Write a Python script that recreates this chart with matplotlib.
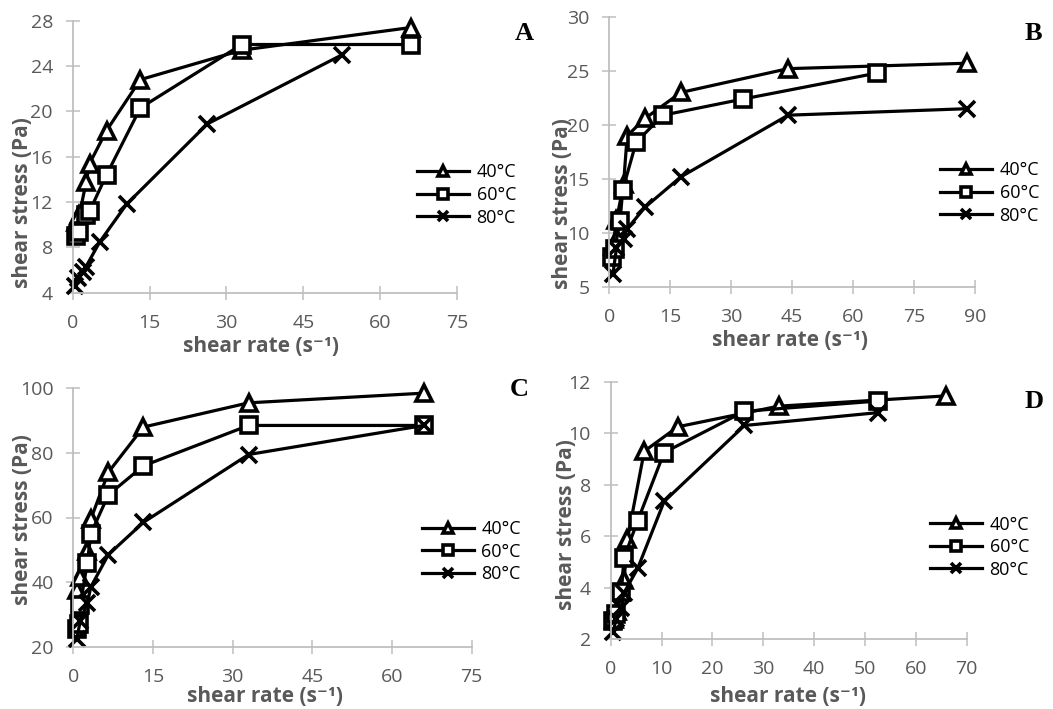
import matplotlib
matplotlib.use('Agg')
import matplotlib.pyplot as plt

plt.rcParams['font.family'] = ['Open Sans', 'DejaVu Sans']

W, H = 1053, 709
grey = '#595959'
axis_grey = '#BFBFBF'

labels = ['40°C', '60°C', '80°C']
markers = ['^', 's', 'x']

# panel A
a_x40 = [0.66, 1.32, 2.64, 3.3, 6.6, 13.2, 33, 66]
a_y40 = [10.2, 10.9, 13.8, 15.4, 18.3, 22.8, 25.4, 27.4]
a_x60 = [0.66, 1.32, 2.64, 3.3, 6.6, 13.2, 33, 66]
a_y60 = [9.0, 9.4, 10.9, 11.2, 14.4, 20.3, 25.9, 25.9]
a_x80 = [0.53, 1.05, 2.1, 2.6, 5.3, 10.5, 26.3, 52.6]
a_y80 = [4.6, 5.3, 5.8, 6.3, 8.5, 11.8, 18.9, 25.0]

# panel B
b_x40 = [0.88, 1.76, 3.5, 4.4, 8.8, 17.6, 44, 88]
b_y40 = [8.8, 11.2, 14.5, 19.0, 20.6, 23.0, 25.2, 25.7]
b_x60 = [0.66, 1.32, 2.64, 3.3, 6.6, 13.2, 33, 66]
b_y60 = [7.8, 8.5, 11.1, 14.0, 18.4, 20.9, 22.4, 24.8]
b_x80 = [0.88, 1.76, 3.5, 4.4, 8.8, 17.6, 44, 88]
b_y80 = [6.2, 8.6, 9.5, 10.4, 12.4, 15.2, 20.9, 21.5]

# panel C
c_x40 = [0.66, 1.32, 2.64, 3.3, 6.6, 13.2, 33, 66]
c_y40 = [37.5, 41.5, 49.5, 59.5, 74, 88, 95.5, 98.5]
c_x60 = [0.66, 1.0, 1.32, 2.64, 3.3, 6.6, 13.2, 33, 66]
c_y60 = [25.5, 27, 33, 46, 55, 67, 76, 88.5, 88.5]
c_x80 = [0.66, 1.32, 2.64, 3.3, 6.6, 13.2, 33, 66]
c_y80 = [22.5, 28, 33.5, 38.5, 48.5, 58.5, 79.5, 88.5]

# panel D
d_x40 = [0.66, 1.32, 2.64, 3.3, 6.6, 13.2, 33, 66]
d_y40 = [2.8, 3.1, 4.3, 5.9, 9.3, 10.25, 11.05, 11.45]
d_x60 = [0.53, 1.05, 2.1, 2.6, 5.3, 10.5, 26.3, 52.6]
d_y60 = [2.7, 3.0, 3.85, 5.15, 6.6, 9.25, 10.85, 11.25]
d_x80 = [0.53, 1.05, 2.1, 2.6, 5.3, 10.5, 26.3, 52.6]
d_y80 = [2.3, 2.8, 3.2, 3.8, 4.75, 7.35, 10.3, 10.8]


def px_axes(fig, left, top, right, bottom):
    return fig.add_axes([left / W, 1 - bottom / H, (right - left) / W, (bottom - top) / H])


def panel(ax, series, xlim, xticks, ylim, yticks, leg_left, leg_mid):
    for (x, y), lab, m in zip(series, labels, markers):
        ax.plot(x, y, color='black', lw=2.3, marker=m, ms=12, mew=2.6,
                mfc='white', mec='black', label=lab, clip_on=False)
    ax.set_xlim(xlim)
    ax.set_ylim(ylim)
    ax.set_xticks(xticks)
    ax.set_yticks(yticks)
    for s in ['top', 'right']:
        ax.spines[s].set_visible(False)
    for s in ['left', 'bottom']:
        ax.spines[s].set_color(axis_grey)
        ax.spines[s].set_linewidth(1.3)
    ax.tick_params(direction='inout', length=10.5, width=1.1, color=axis_grey,
                   labelcolor=grey, labelsize=14)
    ax.tick_params(axis='x', pad=10)
    ax.tick_params(axis='y', pad=9)
    ax.legend(loc='center left', bbox_to_anchor=(leg_left / W, 1 - leg_mid / H),
              bbox_transform=ax.figure.transFigure, frameon=False, fontsize=13,
              handlelength=2.9, handletextpad=0.4, labelspacing=0.25,
              borderpad=0, borderaxespad=0, markerscale=0.6)


fig = plt.figure(figsize=(W / 100, H / 100), dpi=100)

axA = px_axes(fig, 72.7, 20.7, 457, 292.7)
panel(axA, [(a_x40, a_y40), (a_x60, a_y60), (a_x80, a_y80)],
      (0, 75), range(0, 76, 15), (4, 28), range(4, 29, 4), 417, 195)

axB = px_axes(fig, 609.3, 16.7, 975, 287.3)
panel(axB, [(b_x40, b_y40), (b_x60, b_y60), (b_x80, b_y80)],
      (0, 90), range(0, 91, 15), (5, 30), range(5, 31, 5), 940, 193)

axC = px_axes(fig, 73.3, 388.3, 471.7, 646.7)
panel(axC, [(c_x40, c_y40), (c_x60, c_y60), (c_x80, c_y80)],
      (0, 75), range(0, 76, 15), (20, 100), range(20, 101, 20), 421.7, 551.7)

axD = px_axes(fig, 610.7, 381.7, 966.7, 639.3)
panel(axD, [(d_x40, d_y40), (d_x60, d_y60), (d_x80, d_y80)],
      (0, 70), range(0, 71, 10), (2, 12), range(2, 13, 2), 930, 547.3)

# axis titles
xlab = 'shear rate (s⁻¹)'
ylab = 'shear stress (Pa)'
for x, y in [(261, 346), (790, 341), (265, 696), (788, 696)]:
    fig.text(x / W, 1 - y / H, xlab, ha='center', va='center', fontsize=15,
             fontweight='bold', color=grey)
for x, y in [(23, 203), (563, 204), (23, 520), (567, 525)]:
    fig.text(x / W, 1 - y / H, ylab, ha='center', va='center', fontsize=15,
             fontweight='bold', color=grey, rotation=90)

# panel letters
for t, x, y in [('A', 524, 33), ('B', 1033, 33), ('C', 519, 390), ('D', 1034, 402)]:
    fig.text(x / W, 1 - y / H, t, ha='center', va='center', fontsize=19,
             fontweight='bold', family='Liberation Serif', color='black')

fig.savefig('out.png', dpi=100)
